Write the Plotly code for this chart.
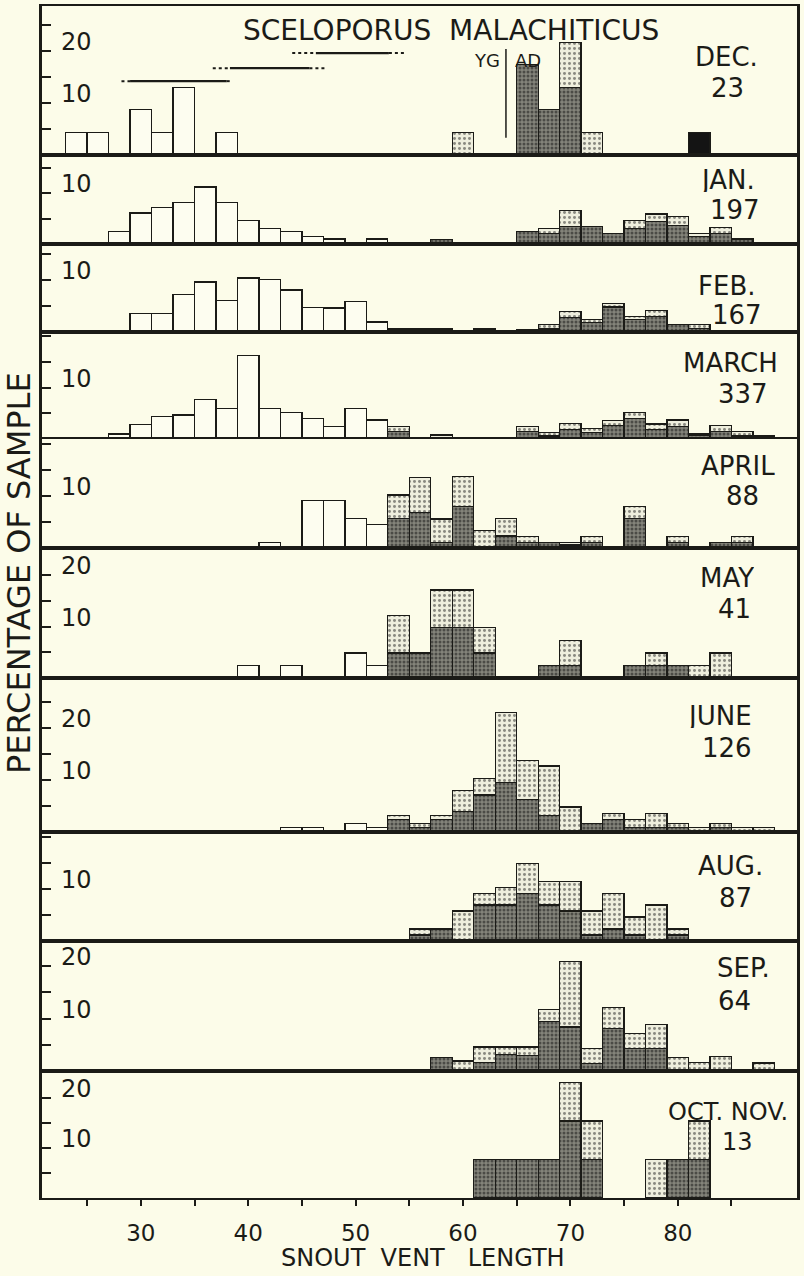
import plotly.graph_objects as go
from plotly.subplots import make_subplots

# ---------------- data (percentage of sample per 2 mm SVL class) ----------------
months = ["DEC.", "JAN.", "FEB.", "MARCH", "APRIL", "MAY", "JUNE", "AUG.", "SEP.", "OCT. NOV."]
sample_sizes = ["23", "197", "167", "337", "88", "41", "126", "87", "64", "13"]
x_tick_values = [30, 40, 50, 60, 70, 80]

dec_young = {24: 4.35, 26: 4.35, 30: 8.7, 32: 4.35, 34: 13.0, 38: 4.35}
dec_dark = {66: 17.4, 68: 8.7, 70: 13.0}
dec_light = {60: 4.35, 70: 8.7, 72: 4.35}
dec_black = {82: 4.35}

jan_young = {28: 2.5, 30: 6.1, 32: 7.1, 34: 8.1, 36: 11.2, 38: 8.1, 40: 4.6, 42: 3.0,
             44: 2.5, 46: 1.5, 48: 1.0, 52: 1.0}
jan_dark = {58: 0.9, 66: 2.5, 68: 2.0, 70: 3.5, 72: 3.5, 74: 2.0, 76: 3.1, 78: 4.4,
            80: 3.6, 82: 1.5, 84: 2.1, 86: 1.0}
jan_light = {68: 1.0, 70: 3.1, 76: 1.5, 78: 1.5, 80: 1.8, 82: 0.5, 84: 1.1}

feb_young = {30: 3.6, 32: 3.6, 34: 7.2, 36: 9.6, 38: 6.0, 40: 10.4, 42: 10.1, 44: 8.1,
             46: 4.7, 48: 4.6, 50: 5.9, 52: 1.9}
feb_dark = {66: 0.4, 68: 0.6, 70: 2.8, 72: 1.8, 74: 4.8, 76: 2.4, 78: 3.0, 80: 1.5, 82: 0.7}
feb_light = {54: 0.6, 56: 0.6, 58: 0.6, 62: 0.6, 68: 0.9, 70: 1.2, 72: 0.6, 74: 0.7,
             76: 0.6, 78: 1.2, 82: 0.7}

mar_young = {28: 1.0, 30: 2.8, 32: 4.4, 34: 4.7, 36: 7.7, 38: 6.0, 40: 16.3, 42: 6.0,
             44: 5.1, 46: 4.0, 48: 2.5, 50: 6.0, 52: 3.7}
mar_dark = {54: 1.5, 66: 1.5, 68: 0.6, 70: 1.8, 72: 1.2, 74: 2.6, 76: 4.0, 78: 1.8,
            80: 2.4, 82: 0.7, 84: 1.5, 86: 0.6, 88: 0.6}
mar_light = {54: 1.0, 58: 0.8, 66: 1.0, 68: 0.6, 70: 1.2, 72: 0.9, 74: 1.0, 76: 1.1,
             78: 1.1, 80: 1.3, 82: 0.3, 84: 1.2, 86: 0.8}

apr_young = {42: 1.1, 46: 9.1, 48: 9.1, 50: 5.7, 52: 4.5}
apr_dark = {54: 5.7, 56: 6.8, 58: 1.1, 60: 8.0, 64: 2.3, 66: 1.1, 68: 1.1, 70: 0.6,
            72: 1.1, 76: 5.7, 80: 1.1, 84: 1.1, 86: 1.1}
apr_light = {54: 4.5, 56: 6.8, 58: 4.5, 60: 5.7, 62: 3.4, 64: 3.4, 66: 1.1, 70: 0.5,
             72: 1.1, 76: 2.3, 80: 1.1, 86: 1.1}

may_young = {40: 2.44, 44: 2.44, 50: 4.88, 52: 2.44}
may_dark = {54: 4.88, 56: 4.88, 58: 9.76, 60: 9.76, 62: 4.88, 68: 2.44, 70: 2.44,
            76: 2.44, 78: 2.44, 80: 2.44}
may_light = {54: 7.32, 58: 7.32, 60: 7.32, 62: 4.88, 70: 4.88, 78: 2.44, 82: 2.44, 84: 4.88}

jun_young = {44: 0.8, 46: 0.8, 50: 1.6, 52: 0.8}
jun_dark = {54: 2.4, 56: 0.8, 58: 2.4, 60: 4.0, 62: 7.1, 64: 9.5, 66: 6.3, 68: 3.2,
            72: 1.6, 74: 2.4, 76: 0.8, 78: 0.8, 80: 0.8, 84: 0.8}
jun_light = {54: 0.8, 56: 0.8, 58: 0.8, 60: 4.0, 62: 3.2, 64: 13.5, 66: 7.5, 68: 9.5,
             70: 4.8, 74: 1.2, 76: 1.6, 78: 2.8, 80: 0.8, 82: 0.8, 84: 0.8, 86: 0.8, 88: 0.8}

aug_dark = {56: 1.15, 58: 2.3, 62: 6.9, 64: 6.9, 66: 9.2, 68: 6.9, 70: 5.75, 72: 1.15,
            74: 2.3, 76: 1.15, 80: 1.15}
aug_light = {56: 1.15, 60: 5.75, 62: 2.3, 64: 3.45, 66: 5.75, 68: 4.6, 70: 5.75, 72: 4.6,
             74: 6.9, 76: 3.45, 78: 6.9, 80: 1.15}

sep_dark = {58: 2.6, 62: 1.6, 64: 3.1, 66: 3.0, 68: 9.4, 70: 8.4, 72: 1.4, 74: 8.1,
            76: 4.3, 78: 4.3}
sep_light = {60: 1.9, 62: 3.0, 64: 1.5, 66: 1.6, 68: 2.3, 70: 12.4, 72: 2.9, 74: 4.0,
             76: 2.9, 78: 4.5, 80: 2.6, 82: 1.6, 84: 2.7, 88: 1.5}

oct_dark = {62: 7.69, 64: 7.69, 66: 7.69, 68: 7.69, 70: 15.4, 72: 7.69, 80: 7.69, 82: 7.69}
oct_light = {70: 7.69, 72: 7.69, 78: 7.69, 82: 7.69}

# size ranges drawn in the December panel (solid core, dotted extensions)
range_level = [14.2, 16.7, 19.6]
range_dot_lo = [28.2, 36.7, 44.1]
range_solid_lo = [29.0, 38.3, 46.3]
range_solid_hi = [38.0, 45.7, 53.1]
range_dot_hi = [38.5, 47.3, 54.7]
yg_ad_boundary = 64

panels = [
    (dec_young, dec_dark, dec_light, dec_black),
    (jan_young, jan_dark, jan_light, {}),
    (feb_young, feb_dark, feb_light, {}),
    (mar_young, mar_dark, mar_light, {}),
    (apr_young, apr_dark, apr_light, {}),
    (may_young, may_dark, may_light, {}),
    (jun_young, jun_dark, jun_light, {}),
    ({}, aug_dark, aug_light, {}),
    ({}, sep_dark, sep_light, {}),
    ({}, oct_dark, oct_light, {}),
]

# ---------------- layout / style ----------------
W, H = 804, 1276
ML, MR, MT, MB = 42, 4, 6, 78
panel_px = [149, 89, 88, 107, 109, 130, 154, 109, 130, 127]
px_per_pct = [5.2, 5.1, 5.2, 5.13, 5.2, 5.15, 5.2, 5.2, 5.25, 5.0]
label_ticks = [[10, 20], [10], [10], [10], [10], [10, 20], [10, 20], [10], [10, 20], [10, 20]]
FONT = "DejaVu Sans"
INK = "#1b1b17"
BG = "#fcfce9"
XR = [20.8, 91.1]

def paper(xp, yp):
    return (xp - ML) / (W - ML - MR), (H - MB - yp) / (H - MT - MB)

fig = make_subplots(rows=10, cols=1, shared_xaxes=True, vertical_spacing=0,
                    row_heights=panel_px)

line = dict(color=INK, width=1.3)
styles = [
    dict(color="#fdfdf0", line=line),
    dict(color="#84847a", line=line,
         pattern=dict(shape=".", fgcolor="#111", size=4, solidity=0.45, fillmode="overlay")),
    dict(color="#eeeedd", line=line,
         pattern=dict(shape=".", fgcolor="#222", size=5, solidity=0.28, fillmode="overlay")),
    dict(color="#141414", line=line),
]

for r, group in enumerate(panels, start=1):
    for data, st in zip(group, styles):
        if not data:
            continue
        fig.add_trace(go.Bar(x=list(data.keys()), y=list(data.values()), width=2,
                             marker=st, showlegend=False, hoverinfo="skip"), row=r, col=1)

# December range lines
for lvl, a, b, c, d in zip(range_level, range_dot_lo, range_solid_lo, range_solid_hi, range_dot_hi):
    fig.add_trace(go.Scatter(x=[b, c], y=[lvl, lvl], mode="lines",
                             line=dict(color=INK, width=2.2), showlegend=False,
                             hoverinfo="skip"), row=1, col=1)
    for p, q in ((a, b), (c, d)):
        fig.add_trace(go.Scatter(x=[p, q], y=[lvl, lvl], mode="lines",
                                 line=dict(color=INK, width=2, dash="dot"), showlegend=False,
                                 hoverinfo="skip"), row=1, col=1)

fig.add_shape(type="line", x0=yg_ad_boundary, x1=yg_ad_boundary, y0=3.3, y1=20.4,
              xref="x", yref="y", line=dict(color=INK, width=1.5))

annotations = []
for r in range(1, 11):
    ymax = panel_px[r - 1] / px_per_pct[r - 1]
    yname = "yaxis" if r == 1 else f"yaxis{r}"
    xname = "xaxis" if r == 1 else f"xaxis{r}"
    tv = [v for v in range(5, 40, 5) if v < ymax - 0.8]
    fig.layout[yname].update(range=[0, ymax], tickvals=tv, ticks="inside", ticklen=9,
                             tickwidth=1.5, tickcolor=INK, showticklabels=False,
                             showline=True, mirror=True, linecolor=INK, linewidth=2.5,
                             showgrid=False, zeroline=False, fixedrange=True)
    xcfg = dict(range=XR, showline=True, mirror=True, linecolor=INK, linewidth=2,
                showgrid=False, zeroline=False, fixedrange=True)
    if r == 10:
        xcfg.update(tickvals=list(range(25, 90, 5)),
                    ticktext=[str(v) if v in x_tick_values else "" for v in range(25, 90, 5)],
                    ticks="outside", ticklen=6, tickwidth=1.5, tickcolor=INK,
                    ticklabelstandoff=7,
                    tickfont=dict(family=FONT, size=23, color=INK))
    else:
        xcfg.update(ticks="", showticklabels=False)
    fig.layout[xname].update(**xcfg)
    yref = "y" if r == 1 else f"y{r}"
    xref = "x" if r == 1 else f"x{r}"
    for v in label_ticks[r - 1]:
        annotations.append(dict(x=22.4, y=v, xref=xref, yref=yref, text=str(v),
                                showarrow=False, xanchor="left", yanchor="middle", yshift=9,
                                height=24,
                                font=dict(family=FONT, size=24, color=INK)))

# month labels (name, sample size) - pixel centres
month_pos = [((729, 57), (730, 88)), ((730, 180), (738, 210)), ((729, 286), (740, 315)),
             ((733, 363), (746, 394)), ((741, 466), (745, 496)), ((730, 578), (737, 609)),
             ((722, 716), (730, 748)), ((733, 866), (738, 898)), ((746, 968), (737, 1001)),
             ((731, 1112), (740, 1142))]
for name, n, (p1, p2) in zip(months, sample_sizes, month_pos):
    for txt, (xp, yp) in ((name, p1), (n, p2)):
        px_, py_ = paper(xp, yp)
        small = txt in ("OCT. NOV.", "13")
        annotations.append(dict(x=px_, y=py_, xref="paper", yref="paper", text=txt,
                                showarrow=False, xanchor="center", yanchor="middle",
                                height=24,
                                font=dict(family=FONT, size=24 if small else 26, color=INK)))

def add_text(txt, xp, yp, size, angle=0, h=None):
    px_, py_ = paper(xp, yp)
    annotations.append(dict(x=px_, y=py_, xref="paper", yref="paper", text=txt,
                            showarrow=False, xanchor="center", yanchor="middle",
                            textangle=angle, height=h,
                            font=dict(family=FONT, size=size, color=INK)))

add_text("SCELOPORUS  MALACHITICUS", 453, 30, 28, h=26)
add_text("YG", 489, 60, 18, h=20)
add_text("AD", 530, 60, 18, h=20)
add_text("SNOUT  VENT   LENGTH", 425, 1258, 24)
add_text("PERCENTAGE OF SAMPLE", 19, 573, 32, angle=-90)

fig.update_layout(width=W, height=H, margin=dict(l=ML, r=MR, t=MT, b=MB),
                  paper_bgcolor=BG, plot_bgcolor=BG, barmode="stack",
                  annotations=annotations, showlegend=False, hovermode=False,
                  font=dict(family=FONT, color=INK))

fig.write_html("out.html", config={"displayModeBar": False},
               post_script="document.body.style.margin='0';document.body.style.overflow='hidden';")
